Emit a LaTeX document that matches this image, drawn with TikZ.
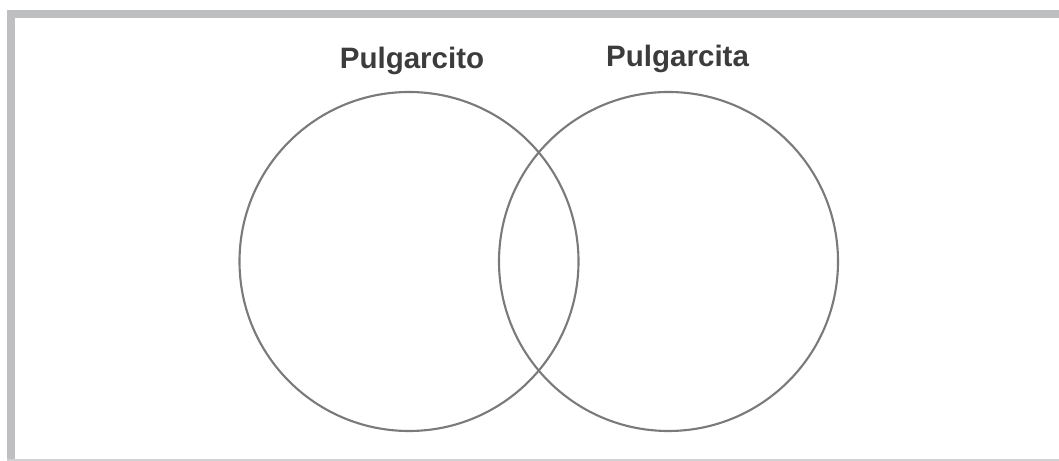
\documentclass[tikz,border=0pt]{standalone}
\usepackage{fontspec}
\setmainfont{Liberation Sans}
\usepackage{tikz}
\usetikzlibrary{positioning}
\definecolor{framegray}{HTML}{BEBFC1}
\definecolor{ringgray}{HTML}{7A7A7A}
\definecolor{labelgray}{HTML}{3C3C3C}

\begin{document}
\begin{tikzpicture}[
    set/.style={circle, draw=ringgray, line width=1.5pt, minimum size=8.475cm, inner sep=0pt},
    title/.style={anchor=base, font=\bfseries\fontsize{21}{24}\selectfont, text=labelgray}
]
    \useasboundingbox (0,0) rectangle (26.475,11.525);
    % Frame
    \fill[framegray] (0.175,0) rectangle (0.375,11.275);
    \fill[framegray] (0.175,11.075) rectangle (26.475,11.275);
    \fill[framegray!70] (0.175,0) rectangle (26.475,0.05);

    % Sets
    \node[set] (cito) at (10.225,4.9875) {};
    \node[set] (cita) at (16.7125,4.9875) {};

    % Titles
    \node[title] (citolabel) at (10.3,9.8) {Pulgarcito};
    \node[title] (citalabel) at (16.94,9.85) {Pulgarcita};
\end{tikzpicture}
\end{document}
